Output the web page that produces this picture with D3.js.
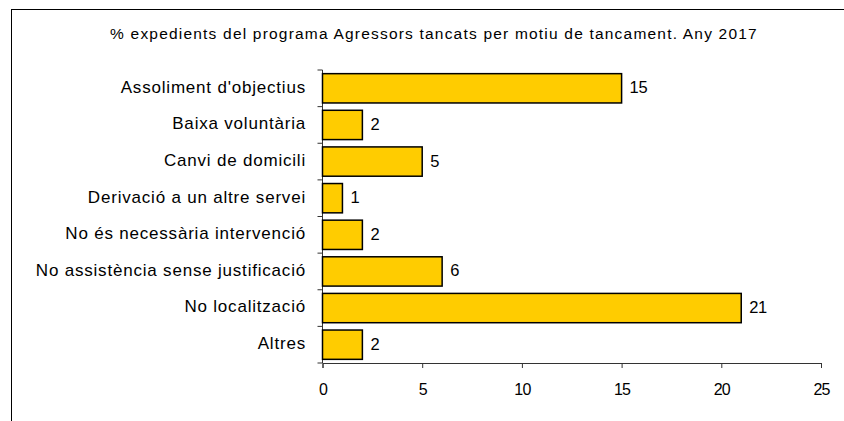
<!DOCTYPE html>
<html>
<head>
<meta charset="utf-8">
<script src="https://cdn.jsdelivr.net/npm/d3@7"></script>
<style>
  body { margin: 0; background: #fff; }
  text { font-family: "Liberation Sans", Arial, sans-serif; fill: #000; }
</style>
</head>
<body>
<div class="chart"></div>
<script>
var categories = ["Assoliment d'objectius", "Baixa voluntària", "Canvi de domicili",
  "Derivació a un altre servei", "No és necessària intervenció",
  "No assistència sense justificació", "No localització", "Altres"];
var values = [15, 2, 5, 1, 2, 6, 21, 2];
var xTicks = [0, 5, 10, 15, 20, 25];
var title = "% expedients del programa Agressors tancats per motiu de tancament. Any 2017";

var W = 844, H = 421;
var margin = { top: 70, right: 23, bottom: 58, left: 322.5 };
var width = W - margin.left - margin.right;
var height = H - margin.top - margin.bottom;

var svg = d3.select(".chart").append("svg")
    .attr("width", W)
    .attr("height", H);

// outer frame (runs off the right and bottom edges)
svg.append("rect")
    .attr("x", 11.5).attr("y", 9.5)
    .attr("width", W).attr("height", H)
    .attr("fill", "none")
    .attr("stroke", "#000")
    .attr("stroke-width", 1);

svg.append("text")
    .attr("x", 434).attr("y", 38.5)
    .attr("text-anchor", "middle")
    .style("font-size", "15.5px")
    .style("letter-spacing", "1.2px")
    .text(title);

var g = svg.append("g")
    .attr("transform", "translate(" + margin.left + "," + margin.top + ")");

var x = d3.scaleLinear().domain([0, 25]).range([0, width]);
var y = d3.scaleBand().domain(categories).range([0, height]).paddingInner(0.2).paddingOuter(0.1);

// x axis
var xAxis = g.append("g")
    .attr("transform", "translate(0," + height + ")")
    .call(d3.axisBottom(x).tickValues(xTicks).tickSize(5).tickPadding(16));
xAxis.select(".domain").attr("stroke", "#333");
xAxis.selectAll(".tick line").attr("stroke", "#333");
xAxis.selectAll("text")
    .style("font-size", "16px")
    .style("letter-spacing", "-0.8px")
    .attr("font-family", null)
    .attr("fill", "#000");

// y axis: line with ticks at category boundaries
var step = height / categories.length;
g.append("line")
    .attr("x1", 0).attr("x2", 0)
    .attr("y1", 0).attr("y2", height)
    .attr("stroke", "#333");
g.selectAll(".ytick")
    .data(d3.range(categories.length + 1))
  .enter().append("line")
    .attr("class", "ytick")
    .attr("x1", -5).attr("x2", 0)
    .attr("y1", function(i) { return i * step; })
    .attr("y2", function(i) { return i * step; })
    .attr("stroke", "#333");

g.selectAll(".ylabel")
    .data(categories)
  .enter().append("text")
    .attr("class", "ylabel")
    .attr("x", -16.5)
    .attr("y", function(d) { return y(d) + y.bandwidth() / 2; })
    .attr("dy", "0.26em")
    .attr("text-anchor", "end")
    .style("font-size", "17px")
    .style("letter-spacing", "0.8px")
    .text(function(d) { return d; });

g.selectAll(".bar")
    .data(values)
  .enter().append("rect")
    .attr("class", "bar")
    .attr("x", x(0))
    .attr("y", function(d, i) { return y(categories[i]); })
    .attr("width", function(d) { return x(d) - x(0); })
    .attr("height", y.bandwidth())
    .attr("fill", "#ffcc00")
    .attr("stroke", "#000")
    .attr("stroke-width", 1.5);

g.selectAll(".val")
    .data(values)
  .enter().append("text")
    .attr("class", "val")
    .attr("x", function(d) { return x(d) + 8; })
    .attr("y", function(d, i) { return y(categories[i]) + y.bandwidth() / 2; })
    .attr("dy", "0.3em")
    .style("font-size", "16.5px")
    .style("letter-spacing", "-0.3px")
    .text(function(d) { return d; });
</script>
</body>
</html>
